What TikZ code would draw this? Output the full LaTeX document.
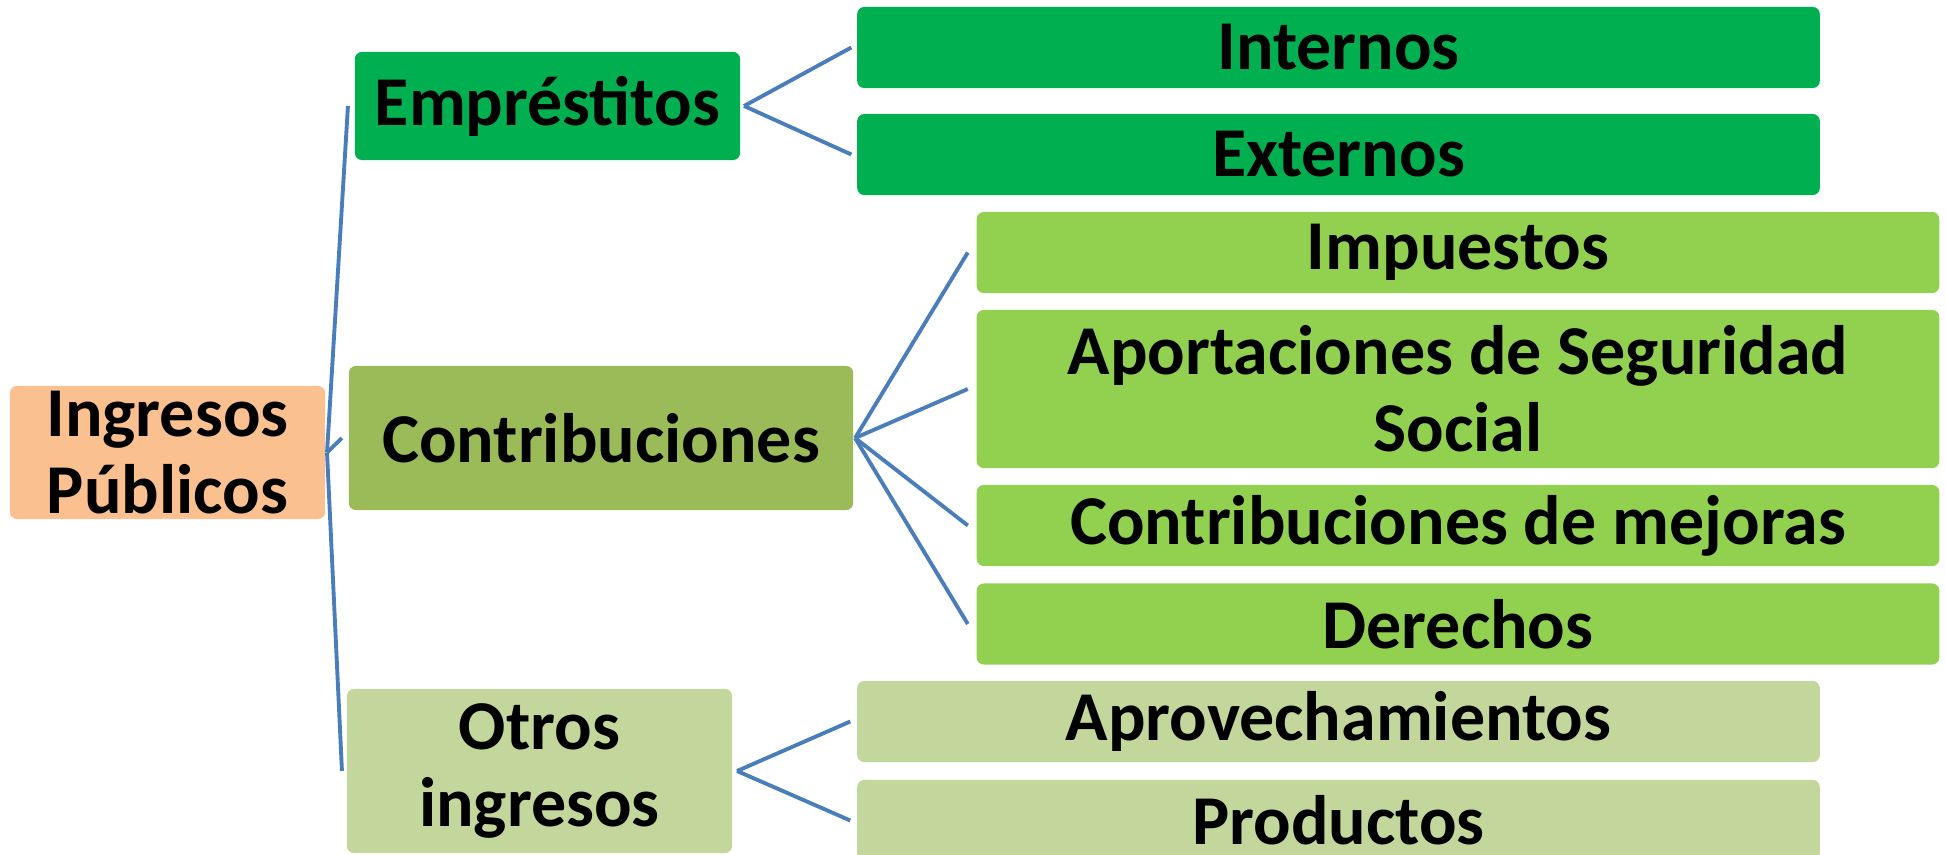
\documentclass[tikz,border=0pt]{standalone}
\usepackage{fontspec}
\setmainfont{Carlito}
\usetikzlibrary{positioning}
\definecolor{ingcolor}{HTML}{FAC090}
\definecolor{empcolor}{HTML}{00B050}
\definecolor{concolor}{HTML}{9BBB59}
\definecolor{subcolor}{HTML}{92D050}
\definecolor{otrcolor}{HTML}{C3D69B}
\definecolor{linkcolor}{HTML}{4A7EBB}

\begin{document}
\begin{tikzpicture}[x=0.01cm,y=-0.01cm,line width=1.1pt,
                    font=\fontsize{19.9}{21.9}\selectfont\bfseries]
  \tikzstyle{every node}=[text=black,inner sep=0pt,rounded corners=0.07cm,align=center]
  \tikzstyle{every edge}=[draw=linkcolor]
  \tikzstyle{wide}=[minimum width=9.62cm,minimum height=0.81cm]
  \useasboundingbox (0,0) rectangle (1946,855);

  % left column
  \node[fill=ingcolor,minimum width=3.15cm,minimum height=1.33cm] (ing) at (167.5,452.5) {Ingresos\\Públicos};

  % middle column
  \node[fill=empcolor,minimum width=3.85cm,minimum height=1.08cm] (emp) at (547.5,106) {Empréstitos};
  \node[fill=concolor,minimum width=5.04cm,minimum height=1.44cm] (con) at (601,438) {Contribuciones};
  \node[fill=otrcolor,minimum width=3.85cm,minimum height=1.64cm] (otr) at (539.5,771) {Otros\\ingresos};

  % right column
  \node[wide,fill=empcolor] (int) at (1338.5,47.5)  {Internos};
  \node[wide,fill=empcolor] (ext) at (1338.5,154.5) {Externos};
  \node[wide,fill=subcolor] (imp) at (1458,252.5)   {Impuestos};
  \node[wide,fill=subcolor,minimum height=1.58cm] (apo) at (1458,389) {Aportaciones de Seguridad\\Social};
  \node[wide,fill=subcolor] (mej) at (1458,525.5)   {Contribuciones de mejoras};
  \node[wide,fill=subcolor] (der) at (1458,624)     {Derechos};
  \node[wide,fill=otrcolor] (apr) at (1338.5,721.5) {Aprovechamientos};
  \node[wide,fill=otrcolor] (pro) at (1338.5,820.5) {Productos};

  \path (ing.east) edge ([xshift=-0.05cm]emp.west)
                   edge ([xshift=-0.05cm]con.west)
                   edge ([xshift=-0.03cm]otr.west);
  \path ([xshift=0.02cm]emp.east) edge ([xshift=-0.04cm]int.west)
                                  edge ([xshift=-0.04cm]ext.west);
  \path (con.east) edge ([xshift=-0.07cm]imp.west)
                   edge ([xshift=-0.07cm]apo.west)
                   edge ([xshift=-0.07cm]mej.west)
                   edge ([xshift=-0.07cm]der.west);
  \path ([xshift=0.03cm]otr.east) edge ([xshift=-0.05cm]apr.west)
                                  edge ([xshift=-0.05cm]pro.west);
\end{tikzpicture}
\end{document}
